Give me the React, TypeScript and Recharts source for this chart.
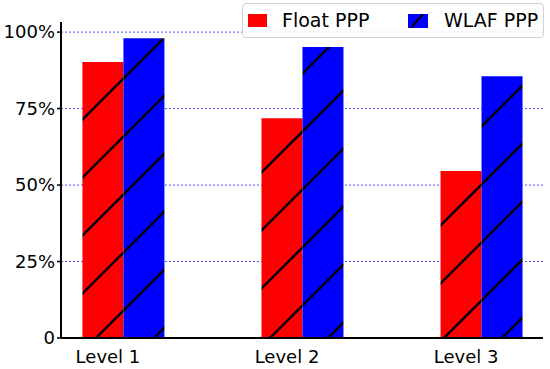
import React from 'react'
import {
    BarChart, Bar, XAxis, YAxis, CartesianGrid
} from 'recharts'

// chart values
const categories = ['Level 1', 'Level 2', 'Level 3']
const floatPPP = [0.902, 0.718, 0.546]
const wlafPPP = [0.98, 0.951, 0.856]
const yTicks = [0, 0.25, 0.5, 0.75, 1]

const RED = '#ff0000'
const BLUE = '#0000ff'
const FONT = '"DejaVu Sans", Verdana, sans-serif'

const data = categories.map((name, i) => ({
    pos: i + 1,
    name,
    float: floatPPP[i],
    wlaf: wlafPPP[i]
}))

// Hatch pattern "/" in page space, lines where x + y = 28 (mod 58)
function Hatch({ id, color }: { id: string; color: string }) {
    return (
        <pattern id={id} patternUnits="userSpaceOnUse" x={28} y={0} width={58} height={58}>
            <rect x={0} y={0} width={58} height={58} fill={color} />
            <line x1={-3} y1={61} x2={61} y2={-3} stroke="#000" strokeWidth={2.4} />
            <line x1={-3} y1={3} x2={3} y2={-3} stroke="#000" strokeWidth={2.4} />
            <line x1={55} y1={61} x2={61} y2={55} stroke="#000" strokeWidth={2.4} />
        </pattern>
    )
}

// legend box, top right, half see-through like the original
function LegendBox() {
    return (
        <div
            style={{
                position: 'absolute',
                left: 242,
                top: 3,
                width: 302,
                height: 35,
                border: '1px solid #d0d0d0',
                borderRadius: 4,
                background: 'rgba(255,255,255,0.8)',
                boxSizing: 'border-box',
                fontFamily: FONT,
                fontSize: 19,
                color: '#000'
            }}
        >
            <div style={{ position: 'absolute', left: 5, top: 10, width: 19, height: 13, background: RED }} />
            <span style={{ position: 'absolute', left: 39, top: 5, lineHeight: '22px' }}>Float PPP</span>
            <svg style={{ position: 'absolute', left: 165, top: 10 }} width={20} height={14}>
                <rect x={0} y={0} width={20} height={14} fill={BLUE} />
                <line x1={3} y1={14} x2={15} y2={0} stroke="#000" strokeWidth={2} />
            </svg>
            <span style={{ position: 'absolute', left: 201, top: 5, lineHeight: '22px' }}>WLAF PPP</span>
        </div>
    )
}

export default function App() {
    return (
        <div style={{ position: 'absolute', left: 0, top: 0, width: 550, height: 369, background: '#fff' }}>
            <BarChart
                width={550}
                height={369}
                data={data}
                margin={{ top: 22, right: 7, left: 0, bottom: 0 }}
                barGap={0}
            >
                <defs>
                    <Hatch id="hatchRed" color={RED} />
                    <Hatch id="hatchBlue" color={BLUE} />
                </defs>
                <CartesianGrid
                    vertical={false}
                    stroke="#5050ff"
                    strokeDasharray="2 2"
                    horizontalValues={[0.25, 0.5, 0.75, 1]}
                />
                <XAxis
                    dataKey="pos"
                    type="number"
                    domain={[0.654, 3.346]}
                    ticks={[1, 2, 3]}
                    tickFormatter={(v: number) => categories[v - 1]}
                    allowDataOverflow
                    height={31}
                    tickLine={false}
                    axisLine={{ stroke: '#000', strokeWidth: 2 }}
                    tick={{ fontSize: 18, fill: '#000', fontFamily: FONT, dx: -15 }}
                    tickMargin={6}
                />
                <YAxis
                    type="number"
                    domain={[0, 1.033]}
                    ticks={yTicks}
                    allowDataOverflow
                    width={61}
                    tickSize={4}
                    tickMargin={2}
                    tickLine={{ stroke: '#000', strokeWidth: 1.5 }}
                    axisLine={{ stroke: '#000', strokeWidth: 2 }}
                    tickFormatter={(v: number) => (v === 0 ? '0' : `${Math.round(v * 100)}%`)}
                    tick={{ fontSize: 18, fill: '#000', fontFamily: FONT }}
                />
                <Bar dataKey="float" name="Float PPP" fill="url(#hatchRed)" barSize={41} isAnimationActive={false} />
                <Bar dataKey="wlaf" name="WLAF PPP" fill="url(#hatchBlue)" barSize={41} isAnimationActive={false} />
            </BarChart>
            <LegendBox />
        </div>
    )
}
